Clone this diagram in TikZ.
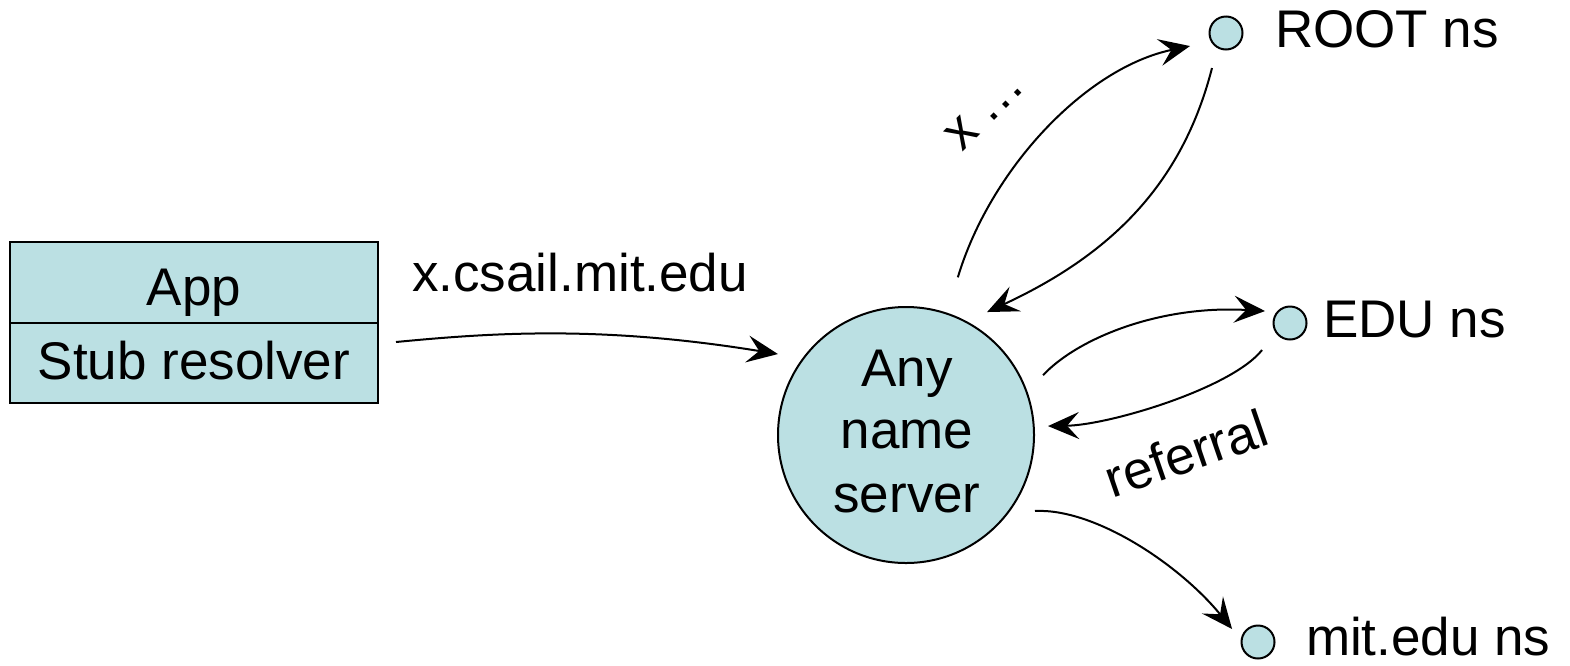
\documentclass[tikz,border=0pt]{standalone}
\usepackage{fontspec}
\setmainfont{Liberation Sans}
\usetikzlibrary{calc,arrows.meta}
\definecolor{nsfill}{RGB}{187,224,227}
\begin{document}
\begin{tikzpicture}[x=1pt,y=-1pt,
  every node/.style={font=\fontsize{53}{63}\selectfont, inner sep=0pt, outer sep=0pt},
  boxpart/.style={draw=black, line width=1.6pt, fill=nsfill, rectangle, minimum width=368pt},
  bigc/.style={draw=black, line width=2pt, fill=nsfill, circle, minimum size=256pt},
  smallc/.style={draw=black, line width=2pt, fill=nsfill, circle, minimum size=33pt},
  txt/.style={anchor=base},
  arr/.style={line width=2pt, -{Stealth[length=31pt,width=27pt,inset=12pt]}}]
\useasboundingbox (0,0) rectangle (1570,665);
% client box
\node[boxpart, minimum height=81pt] (app) at (194,282.5) {};
\node[boxpart, minimum height=80pt] (stub) at (194,363) {};
\node[txt] (apptxt) at (194,305) {App};
\node[txt] (stubtxt) at (194,379) {Stub resolver};
\node[txt] (query) at (580,291) {x.csail.mit.edu};
% name server
\node[bigc] (ns) at (906,435) {};
\node[txt] (t1) at (907,386) {Any};
\node[txt] (t2) at (907,448) {name};
\node[txt] (t3) at (907,512) {server};
% remote servers
\node[smallc] (root) at (1226,33) {};
\node[smallc] (edu) at (1290,323) {};
\node[smallc] (mit) at (1258,642) {};
\node[txt, anchor=base west] (rootl) at (1275,47) {ROOT ns};
\node[txt, anchor=base west] (edul) at (1323,337) {EDU ns};
\node[txt, anchor=base west] (mitl) at (1306,655) {mit.edu ns};
\node[rotate=45] (xdots) at (985,110) {x\hspace{12pt}…};
\node[rotate=19] (refl) at (1186,453) {referral};
% connectors
\draw[arr] ([shift={(18,-21)}]stub.east) .. controls (490,333) and (600,325) .. ($(ns)+(147.7:151.5pt)$);
\draw[arr] ($(ns)+(71.8:166pt)$) .. controls (990,170) and (1085,68) .. ($(root)+(199.9:38.3pt)$);
\draw[arr] ($(root)+(248.2:37.7pt)$) .. controls (1182,185) and (1110,255) .. ($(ns)+(56.6:147.3pt)$);
\draw[arr] ($(ns)+(23.6:149.6pt)$) .. controls (1078,338) and (1160,305) .. ($(edu)+(154.4:27.7pt)$);
\draw[arr] ($(edu)+(224:38.9pt)$) .. controls (1232,388) and (1110,425) .. ($(ns)+(3.6:142.3pt)$);
\draw[arr] ($(ns)+(-30.5:149.7pt)$) .. controls (1095,508) and (1180,565) .. ($(mit)+(153.4:29pt)$);
\end{tikzpicture}
\end{document}
